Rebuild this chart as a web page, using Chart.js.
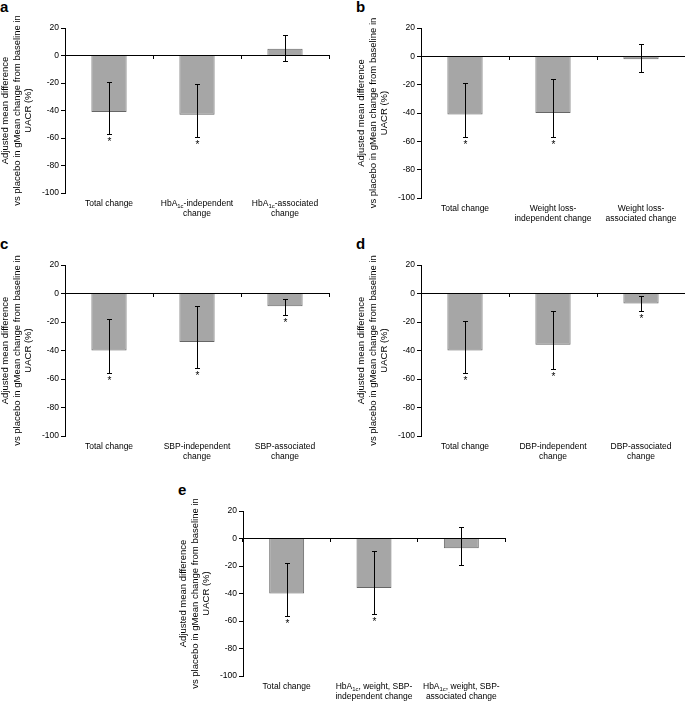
<!DOCTYPE html>
<html>
<head>
<meta charset="utf-8">
<script src="https://cdn.jsdelivr.net/npm/chart.js@4.4.0/dist/chart.umd.min.js"></script>
<style>
  html, body { margin: 0; padding: 0; background: #fff; }
  body { width: 685px; height: 702px; position: relative; overflow: hidden; font-family: Arial, "Liberation Sans", sans-serif; }
  .panel { position: absolute; }
  .letter { position: absolute; font-weight: bold; font-size: 15px; line-height: 15px; color: #000; }
</style>
</head>
<body>

<div class="letter" style="left:0px;top:-1px">a</div>
<div class="letter" style="left:356px;top:-1px">b</div>
<div class="letter" style="left:0px;top:236px">c</div>
<div class="letter" style="left:356px;top:236px">d</div>
<div class="letter" style="left:178px;top:482px">e</div>

<canvas id="chart-a" class="panel" width="335" height="211" style="left:0px;top:16px"></canvas>
<canvas id="chart-b" class="panel" width="329" height="216" style="left:356px;top:16px"></canvas>
<canvas id="chart-c" class="panel" width="335" height="217" style="left:0px;top:253px"></canvas>
<canvas id="chart-d" class="panel" width="329" height="217" style="left:356px;top:253px"></canvas>
<canvas id="chart-e" class="panel" width="333" height="211" style="left:178px;top:499px"></canvas>

<script>
// Five bar panels, adjusted mean difference vs placebo in UACR change.
// Subscripts in labels are written as {..}, line breaks as \n.

// ── Data ────────────────────────────────────────────────────────────────────
const Y_MIN  = -100;
const Y_MAX  = 20;
const Y_STEP = 20;
const Y_TITLE = ['Adjusted mean difference', 'vs placebo in gMean change from baseline in', 'UACR (%)'];

const labelsA = ['Total change', 'HbA{1c}-independent\nchange', 'HbA{1c}-associated\nchange'];
const valuesA = [-41, -43, 5];
const lowA    = [-57, -59, -4];
const highA   = [-19, -21, 15];
const starA   = [true, true, false];

const labelsB = ['Total change', 'Weight loss-\nindependent change', 'Weight loss-\nassociated change'];
const valuesB = [-41, -40, -2];
const lowB    = [-57, -57, -11];
const highB   = [-19, -16, 9];
const starB   = [true, true, false];

const labelsC = ['Total change', 'SBP-independent\nchange', 'SBP-associated\nchange'];
const valuesC = [-40, -34, -9];
const lowC    = [-56, -52, -15];
const highC   = [-18, -9, -4];
const starC   = [true, true, true];

const labelsD = ['Total change', 'DBP-independent\nchange', 'DBP-associated\nchange'];
const valuesD = [-40, -36, -7];
const lowD    = [-56, -53, -12];
const highD   = [-19, -12, -2];
const starD   = [true, true, true];

const labelsE = ['Total change', 'HbA{1c}, weight, SBP-\nindependent change', 'HbA{1c}, weight, SBP-\nassociated change'];
const valuesE = [-40, -36, -7];
const lowE    = [-56, -55, -19];
const highE   = [-18, -9, 8];
const starE   = [true, true, false];

// ── Look ────────────────────────────────────────────────────────────────────
const FONT = 'Arial, "Liberation Sans", sans-serif';
const BAR_FILL   = '#a6a6a6';
const BAR_BORDER = '#666666';

// draws a line of text where {..} parts are subscripts, centred on cx
function drawRichLine(ctx, text, cx, cy, size) {
  const parts = text.split(/(\{[^}]*\})/).filter(p => p.length);
  const segs = parts.map(p => {
    const sub = p[0] === '{';
    return { t: sub ? p.slice(1, -1) : p, sub };
  });
  const fontMain = size + 'px ' + FONT;
  const fontSub  = (size * 0.7) + 'px ' + FONT;
  let total = 0;
  segs.forEach(s => {
    ctx.font = s.sub ? fontSub : fontMain;
    s.w = ctx.measureText(s.t).width;
    total += s.w;
  });
  let x = cx - total / 2;
  segs.forEach(s => {
    ctx.font = s.sub ? fontSub : fontMain;
    ctx.fillText(s.t, x, s.sub ? cy + size * 0.3 : cy);
    x += s.w;
  });
}

const panelExtras = {
  id: 'panelExtras',
  afterDatasetsDraw(chart) {
    const ctx = chart.ctx;
    const ds = chart.data.datasets[0];
    const meta = chart.getDatasetMeta(0);
    const y = chart.scales.y;
    ctx.save();
    ctx.strokeStyle = '#000';
    ctx.fillStyle = '#000';
    ctx.lineWidth = 1;
    meta.data.forEach((bar, i) => {
      const x = Math.round(bar.x) + 0.5;
      const yl = Math.round(y.getPixelForValue(ds.errLow[i])) + 0.5;
      const yh = Math.round(y.getPixelForValue(ds.errHigh[i])) + 0.5;
      ctx.beginPath();
      ctx.moveTo(x, yh); ctx.lineTo(x, yl);
      ctx.moveTo(x - 2.5, yh); ctx.lineTo(x + 2.5, yh);
      ctx.moveTo(x - 2.5, yl); ctx.lineTo(x + 2.5, yl);
      ctx.stroke();
      if (ds.star[i]) {
        ctx.font = '10px ' + FONT;
        ctx.textAlign = 'center';
        ctx.textBaseline = 'top';
        ctx.fillText('*', x, yl + 3);
      }
    });
    ctx.restore();
  },
  afterDraw(chart) {
    const ctx = chart.ctx;
    const xs = chart.scales.x;
    const base = chart.chartArea.bottom + 11;
    ctx.save();
    ctx.fillStyle = '#000';
    ctx.textAlign = 'left';
    ctx.textBaseline = 'middle';
    chart.data.labels.forEach((lab, i) => {
      const cx = xs.getPixelForValue(i);
      lab.split('\n').forEach((line, k) => {
        drawRichLine(ctx, line, cx, base + k * 10, 8.5);
      });
    });
    ctx.restore();
  }
};

function makePanel(id, labels, values, low, high, star, padRight) {
  return new Chart(document.getElementById(id).getContext('2d'), {
    type: 'bar',
    data: {
      labels,
      datasets: [{
        data: values,
        errLow: low,
        errHigh: high,
        star: star,
        backgroundColor: BAR_FILL,
        borderColor: BAR_BORDER,
        borderWidth: 1,
        categoryPercentage: 1,
        barPercentage: 0.4,
      }]
    },
    options: {
      responsive: false,
      animation: false,
      events: [],
      layout: { padding: { top: 12, right: padRight, left: 0, bottom: 0 } },
      plugins: { legend: { display: false }, tooltip: { enabled: false } },
      scales: {
        y: {
          min: Y_MIN, max: Y_MAX,
          ticks: { stepSize: Y_STEP, color: '#000', padding: 2, font: { family: FONT, size: 8.5 } },
          grid: { drawOnChartArea: false, tickLength: 4, color: '#000' },
          border: { color: '#000' },
          title: { display: true, text: Y_TITLE, color: '#000', padding: 0, font: { family: FONT, size: 9.5, lineHeight: 1.2 } },
          afterFit: s => { s.width = 65; }
        },
        x: {
          position: 'bottom',
          ticks: { display: false },
          grid: { display: false },
          border: { display: false },
          afterFit: s => { s.height = 34; }
        },
        x0: {
          type: 'category',
          position: { y: 0 },
          ticks: { display: false },
          grid: { drawOnChartArea: false, tickLength: 3, color: '#000', offset: true },
          border: { color: '#000' }
        }
      }
    },
    plugins: [panelExtras]
  });
}

makePanel('chart-a', labelsA, valuesA, lowA, highA, starA, 6);
makePanel('chart-b', labelsB, valuesB, lowB, highB, starB, 0);
makePanel('chart-c', labelsC, valuesC, lowC, highC, starC, 6);
makePanel('chart-d', labelsD, valuesD, lowD, highD, starD, 0);
makePanel('chart-e', labelsE, valuesE, lowE, highE, starE, 6);
</script>
</body>
</html>
